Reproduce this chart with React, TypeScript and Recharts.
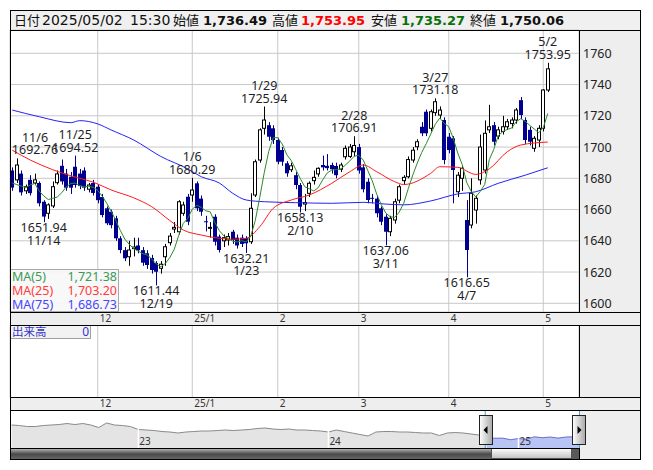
import React from 'react';
import {
  ComposedChart, Bar, Line, XAxis, YAxis, CartesianGrid, ReferenceDot,
  AreaChart, Area, ReferenceLine,
} from 'recharts';

// ---------------- data ----------------
const dates = [
  '11/5','11/6','11/7','11/8','11/11','11/12','11/13','11/14','11/15','11/18','11/19','11/20','11/21','11/22','11/25','11/26','11/27','11/28','11/29',
  '12/2','12/3','12/4','12/5','12/6','12/9','12/10','12/11','12/12','12/13','12/16','12/17','12/18','12/19','12/20','12/23','12/24','12/25','12/26','12/27','12/30',
  '1/6','1/7','1/8','1/9','1/10','1/14','1/15','1/16','1/17','1/20','1/21','1/22','1/23','1/24','1/27','1/28','1/29','1/30','1/31',
  '2/3','2/4','2/5','2/6','2/7','2/10','2/12','2/13','2/14','2/17','2/18','2/19','2/20','2/21','2/25','2/26','2/27','2/28',
  '3/3','3/4','3/5','3/6','3/7','3/10','3/11','3/12','3/13','3/14','3/17','3/18','3/19','3/21','3/24','3/25','3/26','3/27','3/28','3/31',
  '4/1','4/2','4/3','4/4','4/7','4/8','4/9','4/10','4/11','4/14','4/15','4/16','4/17','4/18','4/21','4/22','4/23','4/24','4/25','4/28','4/30',
  '5/1','5/2',
];

const opens = [
  1685,1679,1683,1672,1679,1677,1677,1665,1657.6,1662.3,1677.2,1688,1683,1681,1687.4,1683,1685,1673,1677,
  1674.6,1668,1660.8,1658.6,1654.4,1641.6,1634,1629.8,1635,1637,1634,1632,1629,1625.8,1622.4,1629.8,1638.8,1647.5,1645.8,1657.6,1668.2,
  1669.3,1676.8,1667,1652.5,1648.2,1655.4,1642.7,1640,1640.5,1645.8,1642,1642,1641.8,1639.4,1669.3,1691.7,1712,1714,1712,
  1704.5,1698.1,1689.6,1685.5,1682,1675.7,1663.5,1670.4,1678.5,1682.8,1688.5,1688,1688.5,1687.9,1685.8,1693.8,1694,1697,
  1700,1687,1677.8,1667.5,1667,1660.8,1655.4,1645.8,1653.3,1666,1678.5,1681,1691.7,1700.2,1713,1722.6,1712,1722,1720.5,1717.3,
  1706.6,1705.6,1671.4,1680,1653.3,1650.1,1659.7,1679,1685.3,1711,1714,1707,1710,1713,1715,1717.3,1730,1717.3,1711,1699.2,1704.5,
  1712,1736.49,
];
const highs = [
  1687,1692.76,1685,1676,1682,1683,1678,1666,1664,1678,1685,1692,1686,1684,1694.52,1686,1687,1677,1679,
  1676,1670,1662,1660,1656,1643,1636,1640,1642,1642,1636,1634,1631,1627,1627,1638,1645,1652,1666,1665,1670,
  1680.29,1678,1669,1656,1652,1657,1644,1644,1645,1647,1644,1644,1643,1670.4,1692,1712,1725.94,1716,1714,
  1706,1700,1691,1690,1684,1677,1670,1678,1685,1687,1694.5,1695.5,1690,1690,1690,1701,1702,1706.91,
  1702,1689,1680,1670,1669,1662,1657,1656,1667,1676,1682,1694,1700,1705,1716,1724,1724,1731.18,1726,1719,
  1709,1707,1684,1688,1666,1680,1669,1708,1717,1727,1716,1713,1720,1718,1719,1725,1732,1719,1713,1707,1714,
  1737,1753.95,
];
const lows = [
  1672,1677,1669,1670,1669,1676,1662,1651.94,1654,1661,1676,1676,1672,1670,1674,1673,1672,1671,1669,
  1664,1655,1650,1648,1640,1632,1627,1624,1630,1632,1624,1622,1619,1611.44,1619,1624,1637,1645,1644,1656,1650,
  1665,1659,1656,1646,1642,1637,1632.5,1636,1637,1638,1635,1636,1632.21,1638,1668,1690,1708,1704,1702,
  1689,1688,1681,1684,1673,1658.13,1659,1668,1676,1681,1685,1685,1683,1680,1684,1692,1693,1694,
  1683,1671,1664,1664,1655,1650,1637.06,1643,1651,1664,1676,1680,1690,1698,1707,1707,1710,1720,1718,1689,
  1696,1664,1668,1672,1616.65,1648,1651,1676,1683,1709,1701,1705,1708,1711,1712,1715,1718,1702,1701,1697,1700,
  1710,1735.27,
];
const closes = [
  1674,1688.5,1671,1674.6,1670.5,1679,1664,1655.5,1663,1674.6,1682.8,1678,1674,1674,1675.7,1675,1674,1675.7,1670.6,
  1666,1656.5,1651.2,1650,1641.6,1634.1,1628.8,1634.1,1636,1634,1626,1624.5,1621.3,1620.2,1625,1636.2,1643,1648.6,1665,1662.9,1652.2,
  1672.5,1660.8,1658.6,1652,1648.6,1639.4,1634.1,1642,1642.7,1640.5,1637,1638,1638.4,1660.8,1690.6,1711,1717.3,1706.6,1704.5,
  1690.6,1690.6,1683.2,1688,1675.7,1661.8,1664.5,1676.8,1680.6,1686.4,1687,1686.5,1685.8,1682,1688.5,1699.2,1700,1701,
  1685,1673,1666.1,1667,1657.6,1652.2,1645.8,1654.4,1665,1674.6,1680.6,1692,1698,1703.4,1708.8,1708.8,1722.6,1729,1723.7,1691.7,
  1698.1,1685.3,1682,1686.4,1634.1,1670.4,1667.2,1700,1708.8,1713,1703.4,1711,1713,1716.2,1717.3,1723.7,1720.5,1704.5,1703.4,1705.6,1712,
  1736.5,1750.06,
];

// MA(5) for the first four days (earlier closes are off-screen)
const ma5Lead = [1677, 1676, 1675, 1674];
// MA(25), MA(75) at these trading-day indices
const ma25Idx = [0,4,9,12,15,18,22,27,31,35,38,42,46,49,52,55,58,62,66,71,75,78,81,85,87,93,95,99,103,106,110,113,119];
const ma25Val = [1698,1691.7,1685.5,1682.5,1680,1677.5,1672.5,1667.5,1661.8,1653,1646.9,1643.7,1641.6,1641,1641.6,1649,1660.8,1666.1,1669.3,1676.8,1684.2,1688.5,1684.2,1677.8,1676,1683.2,1687.4,1687,1682.5,1686,1697,1701.3,1703.2];
const ma75Idx = [0,6,13,15,19,22,27,33,39,42,46,49,52,56,63,71,78,83,87,93,99,103,108,114,119];
const ma75Val = [1723.7,1719.4,1715.6,1716.9,1714.8,1710.9,1704.5,1694,1686,1681,1677,1670.4,1666.1,1665,1664.4,1664,1664.6,1663.5,1663,1665.5,1670,1671.4,1676.8,1682,1686.73];

const monthTicks = ['12/2','1/6','2/3','3/3','4/1','5/1'];
const monthLabels = ['12','25/1','2','3','4','5'];
const priceTicks = [1600,1620,1640,1660,1680,1700,1720,1740,1760];

const peakDates = ['11/6','11/14','11/25','12/19','1/6','1/23','1/29','2/10','2/28','3/11','3/27','4/7','5/2'];
const peakValues = [1692.76,1651.94,1694.52,1611.44,1680.29,1632.21,1725.94,1658.13,1706.91,1637.06,1731.18,1616.65,1753.95];
const peakKinds = ['high','low','high','low','high','low','high','low','high','low','high','low','high'];

const legendNames = ['MA(5)','MA(25)','MA(75)'];
const legendValues = ['1,721.38','1,703.20','1,686.73'];

// navigator (long history, half-month steps from May 2022)
const navValues = [2000,1987,1962,1962,1987,2000,2012,2037,2012,2037,2000,1937,2050,2000,1987,1962,1887,1875,1862,1837,1825,1800,1825,1837,1850,1850,1862,1875,1862,1875,1887,1912,1925,1900,1887,1900,1875,1875,1862,1850,1825,1875,1837,1800,1762,1725,1825,1837,1837,1825,1825,1812,1800,1800,1737,1800,1812,1800,1775,1750,1690,1668,1672,1632,1662,1642,1705,1682,1700,1672,1700,1705,1742];
const navYearIdx = [16, 40, 64];
const navYearLabels = ['23','24','25'];
const NAV_SEL_START = 60;

// ---------------- build rows ----------------
const BLANK_SLOTS = 6;
const rows: any[] = dates.map((d, i) => {
  let ma5: number;
  if (i < 4) ma5 = ma5Lead[i];
  else ma5 = (closes[i] + closes[i - 1] + closes[i - 2] + closes[i - 3] + closes[i - 4]) / 5;
  return { d, o: opens[i], h: highs[i], l: lows[i], c: closes[i], range: [lows[i], highs[i]], ma5, ma25: null, ma75: null };
});
ma25Idx.forEach((k, j) => { rows[k].ma25 = ma25Val[j]; });
ma75Idx.forEach((k, j) => { rows[k].ma75 = ma75Val[j]; });
for (let j = 0; j < BLANK_SLOTS; j++) rows.push({ d: `_${j}` });

const navRows = navValues.map((v, k) => ({
  k,
  base: k <= NAV_SEL_START ? v : null,
  sel: k >= NAV_SEL_START ? v : null,
}));

// ---------------- style ----------------
const FONT = '"Noto Sans", "Noto Sans CJK JP", sans-serif';
const CJK = '"Noto Sans CJK JP", "Noto Sans", sans-serif';
const HFONT = '"DejaVu Sans", "Noto Sans CJK JP", sans-serif';
const UP_STROKE = '#000000';
const DOWN = '#000090';
const GRID = '#c8c8c8';
const PANEL = '#eeeeee';
const PLOT_LEFT = 10;

const Candle = (props: any) => {
  const p = props.payload || props;
  const { x, y, width, height } = props;
  if (p == null || p.o == null || x == null || y == null) return <g />;
  const { o, h, l, c } = p;
  const span = h - l;
  const k = span > 0 ? (height || 0) / span : 0;
  const yv = (v: number) => y + (h - v) * k;
  const col = Math.round(x + width / 2);
  const cx = col + 0.5;
  const up = c >= o;
  const top = yv(Math.max(o, c));
  const bot = yv(Math.min(o, c));
  const bh = Math.max(bot - top, 1);
  if (up) {
    return (
      <g>
        <line x1={cx} x2={cx} y1={yv(h)} y2={yv(l)} stroke={UP_STROKE} strokeWidth={1} />
        <rect x={col - 1.5} y={top} width={3} height={bh} fill="#ffffff" stroke={UP_STROKE} strokeWidth={1} />
      </g>
    );
  }
  return (
    <g>
      <line x1={cx} x2={cx} y1={yv(h)} y2={yv(l)} stroke={DOWN} strokeWidth={1} />
      <rect x={col - 2} y={top} width={4} height={bh} fill={DOWN} />
    </g>
  );
};

const makePeakShape = (date: string, value: number, kind: string) => (p: any) => {
  const { cx, cy } = p;
  if (cx == null || cy == null) return <g />;
  const txt = value.toFixed(2);
  const x = Math.max(cx, PLOT_LEFT + 25);
  const first = kind === 'high' ? date : txt;
  const second = kind === 'high' ? txt : date;
  const y1 = kind === 'high' ? cy - 16.5 : cy + 10;
  const y2 = kind === 'high' ? cy - 4 : cy + 22.5;
  const st = { fontFamily: FONT, fontSize: 12.5, fill: '#1e1e28' };
  return (
    <g>
      <text x={x} y={y1} textAnchor="middle" style={st}>{first}</text>
      <text x={x} y={y2} textAnchor="middle" style={st}>{second}</text>
    </g>
  );
};

const MonthTick = (props: any) => {
  const { x, y, payload } = props;
  const i = monthTicks.indexOf(payload.value);
  return (
    <text x={x + 2} y={y + 9.5} style={{ fontFamily: FONT, fontSize: 10, fill: '#333' }}>
      {i >= 0 ? monthLabels[i] : ''}
    </text>
  );
};

const PriceTick = (props: any) => {
  const { x, y, payload } = props;
  return (
    <text x={x + 4} y={y + 4.5} style={{ fontFamily: FONT, fontSize: 12.5, fill: '#222' }}>
      {payload.value}
    </text>
  );
};

const abs = (l: number, t: number, w: number, h: number, extra: any = {}) => ({
  position: 'absolute' as const, left: l, top: t, width: w, height: h, ...extra,
});

export default function App() {
  const Y_DOMAIN: [number, number] = [1594.43, 1774.91];
  return (
    <div style={abs(0, 0, 653, 470, { background: '#ffffff', overflow: 'hidden' })}>
      {/* panel backgrounds */}
      <div style={abs(10, 10, 630, 20, { background: '#f0f0f0' })} />
      <div style={abs(579, 30, 61, 282, { background: PANEL })} />
      <div style={abs(10, 312, 630, 13, { background: PANEL })} />
      <div style={abs(579, 325, 61, 72, { background: PANEL })} />
      <div style={abs(10, 397, 630, 13, { background: PANEL })} />
      <div style={abs(579, 410, 61, 49, { background: PANEL })} />

      {/* main price chart */}
      <div style={abs(0, 0, 653, 326)}>
        <ComposedChart width={653} height={326} data={rows} margin={{ top: 30, right: 13, bottom: 1, left: 10 }}>
          <CartesianGrid stroke={GRID} strokeWidth={1} />
          <XAxis dataKey="d" ticks={monthTicks} interval={0} tick={<MonthTick />} tickLine={false} axisLine={false}
            tickSize={0} tickMargin={0} height={13} padding={{ left: 0, right: 2 }} />
          <YAxis orientation="right" width={61} domain={Y_DOMAIN} ticks={priceTicks} allowDataOverflow
            tick={<PriceTick />} tickLine={false} axisLine={false} tickSize={0} tickMargin={0} />
          <Bar dataKey="range" shape={Candle} isAnimationActive={false} />
          <Line type="monotone" dataKey="ma75" stroke="#2323f5" strokeWidth={1} dot={false} connectNulls isAnimationActive={false} />
          <Line type="monotone" dataKey="ma25" stroke="#ff1a1a" strokeWidth={1} dot={false} connectNulls isAnimationActive={false} />
          <Line type="linear" dataKey="ma5" stroke="#2a8a2a" strokeWidth={1} dot={false} isAnimationActive={false} />
          {peakDates.map((d, i) => (
            <ReferenceDot key={d} x={d} y={peakValues[i]} r={0} ifOverflow="visible"
              shape={makePeakShape(d, peakValues[i], peakKinds[i])} />
          ))}
        </ComposedChart>
      </div>

      {/* volume panel (empty) */}
      <div style={abs(0, 325, 653, 85)}>
        <ComposedChart width={653} height={85} data={rows} margin={{ top: 0, right: 74, bottom: 0, left: 10 }}>
          <CartesianGrid stroke={GRID} horizontal={false} />
          <XAxis dataKey="d" ticks={monthTicks} interval={0} tick={<MonthTick />} tickLine={false} axisLine={false}
            tickSize={0} tickMargin={0} height={13} padding={{ left: 0, right: 2 }} />
          <YAxis hide domain={[0, 1]} />
          <Bar dataKey="vol" isAnimationActive={false} />
        </ComposedChart>
      </div>

      {/* navigator */}
      <div style={abs(0, 410, 653, 38)}>
        <AreaChart width={653} height={38} data={navRows} margin={{ top: 0, right: 74, bottom: 0, left: 10 }}>
          <XAxis type="number" dataKey="k" domain={[-0.2, 71.64]} allowDataOverflow hide />
          <YAxis hide domain={[1425, 2375]} allowDataOverflow />
          <Area type="linear" dataKey="base" stroke="#8a8a8a" strokeWidth={1} fill="#e4e4e4" fillOpacity={1}
            isAnimationActive={false} connectNulls={false} />
          <Area type="linear" dataKey="sel" stroke="#6c6cd0" strokeWidth={1} fill="#b8c4f4" fillOpacity={1}
            isAnimationActive={false} connectNulls={false} />
          {navYearIdx.map((k, i) => (
            <ReferenceLine key={k} x={k} stroke="#ffffff" strokeWidth={1.5}
              label={(p: any) => {
                const vb = p.viewBox || {};
                return (
                  <text x={(vb.x || 0) + 1} y={(vb.y || 0) + (vb.height || 0) - 3}
                    style={{ fontFamily: FONT, fontSize: 10, fill: '#333' }}>{navYearLabels[i]}</text>
                );
              }} />
          ))}
          <ReferenceLine x={59.8} stroke="#3aa8dc" strokeWidth={1} />
        </AreaChart>
      </div>

      {/* overlay: header texts, legend boxes, handles, scrollbar, frame */}
      <svg width={653} height={470} style={{ position: 'absolute', left: 0, top: 0 }}>
        <defs>
          <linearGradient id="track" x1="0" y1="0" x2="0" y2="1">
            <stop offset="0" stopColor="#c4c4c4" />
            <stop offset="0.55" stopColor="#4a4a4a" />
            <stop offset="1" stopColor="#666666" />
          </linearGradient>
          <linearGradient id="thumb" x1="0" y1="0" x2="0" y2="1">
            <stop offset="0" stopColor="#ffffff" />
            <stop offset="1" stopColor="#c0c0c0" />
          </linearGradient>
          <linearGradient id="handle" x1="0" y1="0" x2="1" y2="0">
            <stop offset="0" stopColor="#ffffff" />
            <stop offset="1" stopColor="#a8a8a8" />
          </linearGradient>
        </defs>

        {/* header */}
        <g>
          <text x={14} y={24.5} style={{ fontFamily: CJK, fontSize: 13, fill: '#111' }}>日付</text>
          <text x={42} y={24.5} style={{ fontFamily: HFONT, fontSize: 14, fill: '#111' }}>2025/05/02</text>
          <text x={130} y={24.5} style={{ fontFamily: HFONT, fontSize: 14, fill: '#111' }}>15:30</text>
          <text x={173} y={24.5} style={{ fontFamily: CJK, fontSize: 13, fill: '#111' }}>始値</text>
          <text x={203} y={24.5} style={{ fontFamily: HFONT, fontSize: 13, fontWeight: 700, fill: '#111' }}>1,736.49</text>
          <text x={272} y={24.5} style={{ fontFamily: CJK, fontSize: 13, fill: '#111' }}>高値</text>
          <text x={301} y={24.5} style={{ fontFamily: HFONT, fontSize: 13, fontWeight: 700, fill: '#ff0000' }}>1,753.95</text>
          <text x={371} y={24.5} style={{ fontFamily: CJK, fontSize: 13, fill: '#111' }}>安値</text>
          <text x={401} y={24.5} style={{ fontFamily: HFONT, fontSize: 13, fontWeight: 700, fill: '#0a700a' }}>1,735.27</text>
          <text x={470} y={24.5} style={{ fontFamily: CJK, fontSize: 13, fill: '#111' }}>終値</text>
          <text x={500} y={24.5} style={{ fontFamily: HFONT, fontSize: 13, fontWeight: 700, fill: '#111' }}>1,750.06</text>
        </g>

        {/* MA legend box */}
        <rect x={10.5} y={269.5} width={108} height={42} fill="#f7f7f7" fillOpacity={0.92} stroke="#a8a8a8" />
        {legendNames.map((n, i) => {
          const col = ['#3a9a55', '#ff3c3c', '#4646ff'][i];
          const y = 280.5 + i * 14;
          return (
            <g key={n}>
              <text x={12} y={y} style={{ fontFamily: FONT, fontSize: 12.5, fill: col }}>{n}</text>
              <text x={117} y={y} textAnchor="end" style={{ fontFamily: FONT, fontSize: 12.5, fill: col }}>{legendValues[i]}</text>
            </g>
          );
        })}

        {/* volume label box */}
        <rect x={10.5} y={325.5} width={80} height={13} fill="#f2f2f2" stroke="#a0a0a0" />
        <text x={12} y={336} style={{ fontFamily: CJK, fontSize: 11.5, fill: '#3434c8' }}>出来高</text>
        <text x={89} y={336} textAnchor="end" style={{ fontFamily: FONT, fontSize: 12, fill: '#3434c8' }}>0</text>

        {/* scrollbar */}
        <rect x={10} y={448} width={481} height={11} fill="url(#track)" />
        <rect x={491.5} y={448.5} width={80} height={10} fill="url(#thumb)" stroke="#555" />
        <rect x={572} y={448} width={7} height={11} fill="#5a5a5a" />

        {/* navigator right cyan edge */}
        <line x1={579.5} x2={579.5} y1={410} y2={448} stroke="#3aa8dc" />

        {/* handles */}
        <rect x={479.5} y={415.5} width={13} height={29} fill="url(#handle)" stroke="#222" />
        <path d="M 483.5 430 L 487.5 426 L 487.5 434 Z" fill="#000" />
        <rect x={572.5} y={415.5} width={13} height={29} fill="url(#handle)" stroke="#222" />
        <path d="M 581.5 430 L 577.5 426 L 577.5 434 Z" fill="#000" />

        {/* frame */}
        <g stroke="#000" strokeWidth={1} fill="none">
          <rect x={10.5} y={10.5} width={630} height={449} />
          <line x1={10} x2={641} y1={30.5} y2={30.5} />
          <line x1={10} x2={641} y1={312.5} y2={312.5} />
          <line x1={10} x2={641} y1={325.5} y2={325.5} />
          <line x1={10} x2={641} y1={397.5} y2={397.5} />
          <line x1={10} x2={641} y1={410.5} y2={410.5} />
          <line x1={10} x2={580} y1={448.5} y2={448.5} />
          <line x1={579.5} x2={579.5} y1={30} y2={312} />
          <line x1={579.5} x2={579.5} y1={325} y2={397} />
          <line x1={579.5} x2={579.5} y1={448} y2={459} />
        </g>
      </svg>
    </div>
  );
}
